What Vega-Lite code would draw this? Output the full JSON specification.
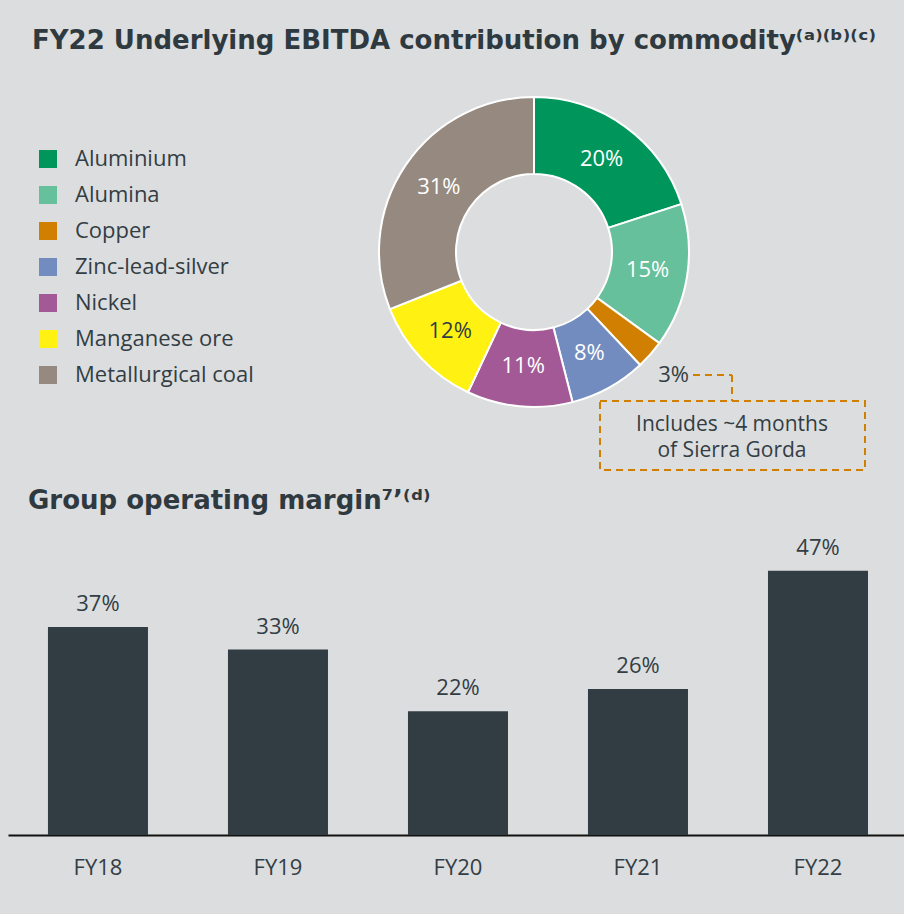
{
  "$schema": "https://vega.github.io/schema/vega-lite/v6.json",
  "background": "#dcdddf",
  "padding": {"left": 8, "top": 28, "right": 0, "bottom": 38},
  "bounds": "flush",
  "spacing": 74,
  "config": {
    "view": {"stroke": null},
    "font": "Open Sans",
    "title": {"font": "DejaVu Sans", "fontWeight": "bold", "fontSize": 26, "color": "#2f3a40", "anchor": "start", "frame": "group", "baseline": "alphabetic"}
  },
  "vconcat": [
    {
      "width": 896,
      "height": 390,
      "title": {"text": "FY22 Underlying EBITDA contribution by commodity⁽ᵃ⁾⁽ᵇ⁾⁽ᶜ⁾", "dx": 24, "offset": 36},
      "layer": [
        {
          "data": {"name": "shares", "values": [
            {"i": 1, "commodity": "Aluminium", "share": 0.20},
            {"i": 2, "commodity": "Alumina", "share": 0.15},
            {"i": 3, "commodity": "Copper", "share": 0.03},
            {"i": 4, "commodity": "Zinc-lead-silver", "share": 0.08},
            {"i": 5, "commodity": "Nickel", "share": 0.11},
            {"i": 6, "commodity": "Manganese ore", "share": 0.12},
            {"i": 7, "commodity": "Metallurgical coal", "share": 0.31}
          ]},
          "layer": [
            {
              "mark": {"type": "arc", "outerRadius": 155, "innerRadius": 78, "stroke": "white", "strokeWidth": 2},
              "encoding": {
                "x": {"datum": 0, "type": "quantitative", "scale": {"domain": [-3.3935, 2.3871], "nice": false, "zero": false}, "axis": null},
                "y": {"datum": 0, "type": "quantitative", "scale": {"domain": [-1.4710, 1.0452], "nice": false, "zero": false}, "axis": null},
                "theta": {"field": "share", "type": "quantitative", "stack": true},
                "order": {"field": "i", "type": "quantitative"},
                "color": {
                  "field": "commodity", "type": "nominal",
                  "scale": {
                    "domain": ["Aluminium", "Alumina", "Copper", "Zinc-lead-silver", "Nickel", "Manganese ore", "Metallurgical coal"],
                    "range": ["#00955a", "#66c09b", "#d07f00", "#738cc0", "#a35995", "#fff212", "#968a80"]
                  },
                  "legend": {
                    "orient": "none", "legendX": 29, "legendY": 58, "title": null,
                    "symbolType": "square", "symbolSize": 324, "symbolStrokeWidth": 0, "symbolOpacity": 1,
                    "labelFontSize": 22, "labelColor": "#333d44", "labelFont": "Open Sans", "labelLimit": 400,
                    "rowPadding": 14, "labelOffset": 16
                  }
                }
              }
            },
            {
              "mark": {"type": "text", "radius": 115, "fontSize": 22, "align": "center", "baseline": "middle"},
              "encoding": {
                "x": {"datum": 0, "type": "quantitative"},
                "y": {"datum": 0, "type": "quantitative"},
                "theta": {"field": "share", "type": "quantitative", "stack": true},
                "order": {"field": "i", "type": "quantitative"},
                "text": {"condition": {"test": "datum.commodity === 'Copper'", "value": ""}, "field": "share", "type": "quantitative", "format": ".0%"},
                "color": {"condition": {"test": "datum.commodity === 'Manganese ore'", "value": "#333d44"}, "value": "white"}
              }
            },
            {
              "mark": {"type": "text", "radius": 186, "fontSize": 22, "align": "center", "baseline": "middle", "color": "#333d44"},
              "encoding": {
                "x": {"datum": 0, "type": "quantitative"},
                "y": {"datum": 0, "type": "quantitative"},
                "theta": {"field": "share", "type": "quantitative", "stack": true},
                "order": {"field": "i", "type": "quantitative"},
                "text": {"condition": {"test": "datum.commodity !== 'Copper'", "value": ""}, "field": "share", "type": "quantitative", "format": ".0%"}
              }
            }
          ]
        },
        {
          "data": {"values": [{}]},
          "mark": {"type": "rule", "color": "#d07f00", "strokeWidth": 2, "strokeDash": [7, 5]},
          "encoding": {
            "x": {"datum": 1.0258, "type": "quantitative"},
            "x2": {"datum": 1.2774},
            "y": {"datum": -0.7935, "type": "quantitative"}
          }
        },
        {
          "data": {"values": [{}]},
          "mark": {"type": "rule", "color": "#d07f00", "strokeWidth": 2, "strokeDash": [7, 5]},
          "encoding": {
            "x": {"datum": 1.2774, "type": "quantitative"},
            "y": {"datum": -0.7935, "type": "quantitative"},
            "y2": {"datum": -0.9613}
          }
        },
        {
          "data": {"values": [{}]},
          "mark": {"type": "rect", "fillOpacity": 0, "stroke": "#d07f00", "strokeWidth": 2, "strokeDash": [7, 5]},
          "encoding": {
            "x": {"datum": 0.4258, "type": "quantitative"},
            "x2": {"datum": 2.1355},
            "y": {"datum": -0.9613, "type": "quantitative"},
            "y2": {"datum": -1.4065}
          }
        },
        {
          "data": {"values": [{}]},
          "mark": {"type": "text", "text": ["Includes ~4 months", "of Sierra Gorda"], "fontSize": 21, "lineHeight": 26, "align": "center", "baseline": "middle", "color": "#333d44"},
          "encoding": {
            "x": {"datum": 1.2774, "type": "quantitative"},
            "y": {"datum": -1.1161, "type": "quantitative"}
          }
        }
      ]
    },
    {
      "width": 896,
      "height": 281,
      "title": {"text": "Group operating margin⁷’⁽ᵈ⁾", "dx": 20, "offset": 23},
      "data": {"values": [
        {"year": "FY18", "margin": 0.37},
        {"year": "FY19", "margin": 0.33},
        {"year": "FY20", "margin": 0.22},
        {"year": "FY21", "margin": 0.26},
        {"year": "FY22", "margin": 0.47}
      ]},
      "encoding": {
        "x": {
          "field": "year", "type": "nominal",
          "scale": {"paddingInner": 0.4444, "paddingOuter": 0.211, "align": 0.526},
          "axis": {"title": null, "ticks": false, "domainColor": "#111111", "domainWidth": 2, "labelFontSize": 22, "labelColor": "#333d44", "labelPadding": 22, "labelAngle": 0, "grid": false}
        },
        "y": {"field": "margin", "type": "quantitative", "scale": {"domain": [0, 0.5]}, "axis": null}
      },
      "layer": [
        {"mark": {"type": "bar", "color": "#323c43"}},
        {
          "mark": {"type": "text", "dy": -16, "baseline": "alphabetic", "fontSize": 22, "color": "#333d44"},
          "encoding": {"text": {"field": "margin", "type": "quantitative", "format": ".0%"}}
        }
      ]
    }
  ]
}
